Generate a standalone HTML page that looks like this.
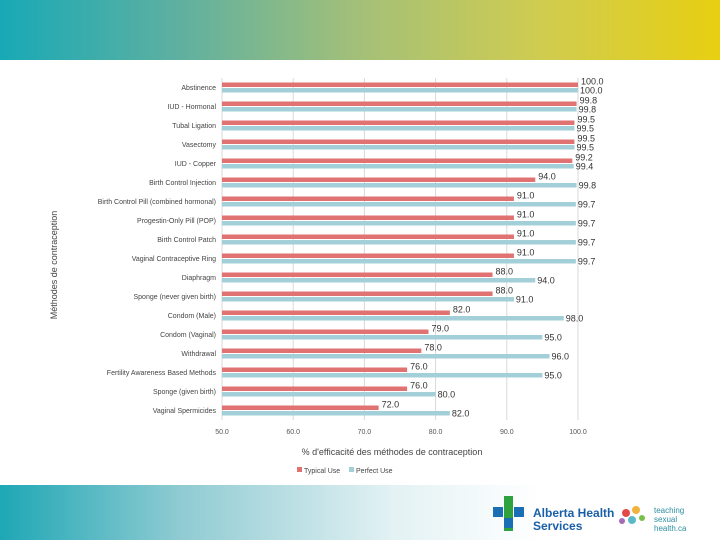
<!DOCTYPE html>
<html><head><meta charset="utf-8"><style>
body{margin:0;width:720px;height:540px;overflow:hidden;background:#fff;font-family:"Liberation Sans",sans-serif;position:relative}
#top{position:absolute;left:0;top:0;width:720px;height:60px;background:linear-gradient(90deg,#18a9b6 0%,#5fb0a0 25%,#a4c078 50%,#cfcc50 75%,#e8cf12 100%)}
#bot{position:absolute;left:0;top:485px;width:720px;height:55px;background:linear-gradient(90deg,#1ea7b5 0%,#8fcbd2 25%,#e4f2f4 55%,#ffffff 75%)}
svg{position:absolute;left:0;top:0}
</style></head><body>
<div id="top"></div>
<div id="bot"></div>
<svg width="720" height="540" id="chart">
<g id="grid"></g><g id="bars"></g><g id="labels"></g>
<text x="57" y="265" transform="rotate(-90 57 265)" text-anchor="middle" font-size="9" fill="#444">Méthodes de contraception</text>
<text x="392" y="455" text-anchor="middle" font-size="9" fill="#444">% d'efficacité des méthodes de contraception</text>
<g>
<rect x="297" y="467" width="5" height="5" fill="#e07272"/>
<text x="304" y="473" font-size="7" fill="#444">Typical Use</text>
<rect x="349" y="467" width="5" height="5" fill="#a3cfd8"/>
<text x="356" y="473" font-size="7" fill="#444">Perfect Use</text>
</g>
<g>
<rect x="504" y="496" width="9" height="35" fill="#2ea23e"/>
<rect x="493" y="507" width="10" height="10" fill="#1a6fb4"/>
<rect x="514" y="507" width="10" height="10" fill="#1a6fb4"/>
<rect x="504" y="518" width="9" height="10" fill="#1a6fb4"/>
<text x="533" y="517" font-size="12" font-weight="bold" fill="#1a5fa8">Alberta Health</text>
<text x="533" y="530" font-size="12" font-weight="bold" fill="#1a5fa8">Services</text>
</g>
<g>
<circle cx="626" cy="513" r="4" fill="#e24a4a"/><circle cx="636" cy="510" r="4" fill="#f0b43c"/><circle cx="632" cy="520" r="4" fill="#5ab9c8"/><circle cx="642" cy="518" r="3" fill="#7bbf4b"/><circle cx="622" cy="521" r="3" fill="#a46cb8"/>
<text x="654" y="513" font-size="8" fill="#2c8fa0">teaching</text>
<text x="654" y="522" font-size="8" fill="#2c8fa0">sexual</text>
<text x="654" y="531" font-size="8" fill="#2c8fa0">health.ca</text>
</g>
</svg>
<script>
const categories=["Abstinence","IUD - Hormonal","Tubal Ligation","Vasectomy","IUD - Copper","Birth Control Injection","Birth Control Pill (combined hormonal)","Progestin-Only Pill (POP)","Birth Control Patch","Vaginal Contraceptive Ring","Diaphragm","Sponge (never given birth)","Condom (Male)","Condom (Vaginal)","Withdrawal","Fertility Awareness Based Methods","Sponge (given birth)","Vaginal Spermicides"];
const typicalUse=[100,99.8,99.5,99.5,99.2,94,91,91,91,91,88,88,82,79,78,76,76,72];
const perfectUse=[100,99.8,99.5,99.5,99.4,99.8,99.7,99.7,99.7,99.7,94,91,98,95,96,95,80,82];
const xTicks=[50,60,70,80,90,100];
const NS="http://www.w3.org/2000/svg";
const x=v=>222+(v-50)*(578-222)/50;
const top0=78,bot0=420,n=categories.length,band=(bot0-top0)/n;
const yc=i=>top0+band*(i+0.5);
function mk(t,a,p){const e=document.createElementNS(NS,t);for(const k in a)e.setAttribute(k,a[k]);p.appendChild(e);return e;}
const G=document.getElementById('grid'),B=document.getElementById('bars'),L=document.getElementById('labels');
xTicks.forEach(v=>{
 const l=mk('line',{x1:x(v),x2:x(v),y1:top0,y2:bot0,stroke:'#d9d9d9','stroke-width':1},G);
 
 
 const t=mk('text',{x:x(v),y:434,'text-anchor':'middle','font-size':7,fill:'#555'},G);
 t.textContent=v.toFixed(1);
 
 
});
categories.forEach((c,i)=>{
 const y=yc(i);
 const t=mk('text',{x:216,y:y+2.5,'text-anchor':'end','font-size':7,fill:'#444'},L);
 t.textContent=c;
 
 
 const r1=mk('rect',{x:x(50),y:y-5,width:x(typicalUse[i])-x(50),height:4.5,fill:'#e07272'},B);
 
 
 const r2=mk('rect',{x:x(50),y:y+0.5,width:x(perfectUse[i])-x(50),height:4.5,fill:'#a3cfd8'},B);
 
 
 const l1=mk('text',{x:x(typicalUse[i])+3,y:y-3,'font-size':9,fill:'#333'},L);
 l1.textContent=typicalUse[i].toFixed(1);
 
 
 const l2=mk('text',{x:x(perfectUse[i])+2,y:y+6,'font-size':9,fill:'#333'},L);
 l2.textContent=perfectUse[i].toFixed(1);
 
 
});
</script>
</body></html>
